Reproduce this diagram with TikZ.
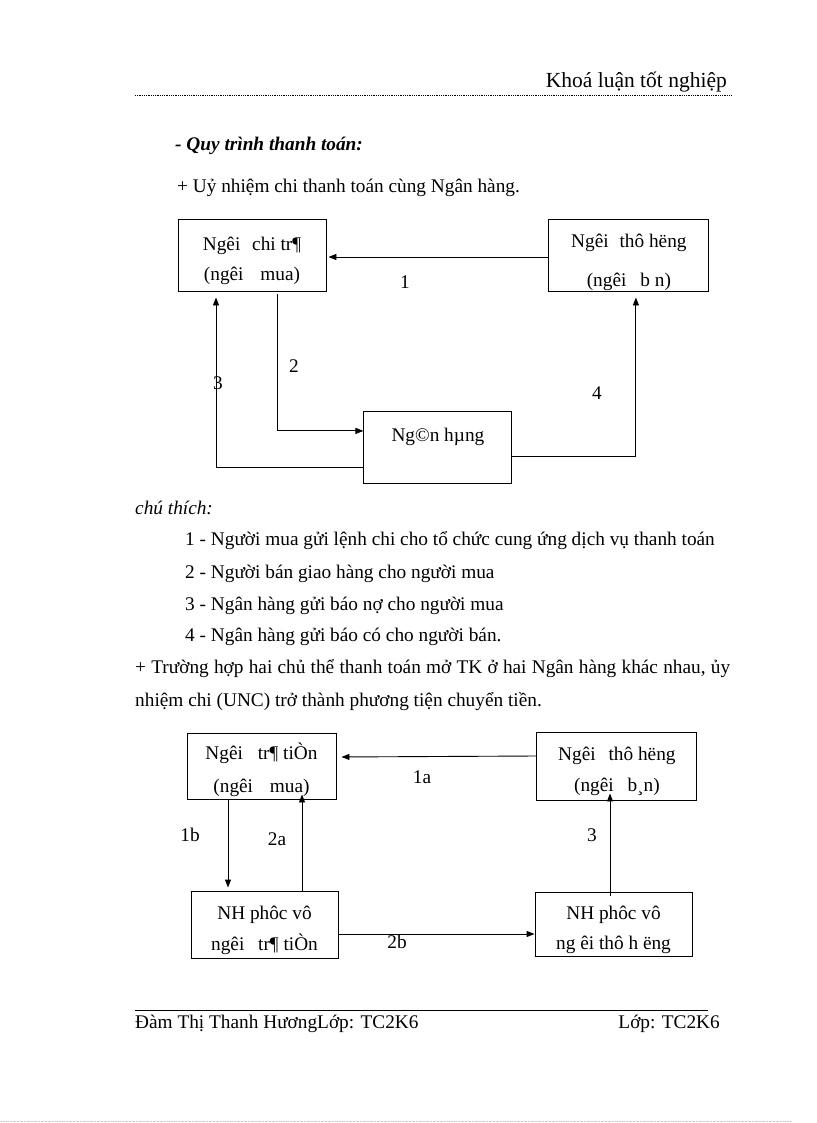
\documentclass[tikz,border=0pt]{standalone}
\usepackage{fontspec}
\setmainfont{Liberation Serif}
\usetikzlibrary{arrows.meta,
                positioning}
\newcommand{\lift}[1]{\rule{0pt}{#1}} % taller first line, text sits lower in its box

\begin{document}
\begin{tikzpicture}[x=1pt,y=-1pt]
    \tikzset
    {
        base/.style = {draw,
                       line width = 0.9pt,
                       inner sep = 0pt,
                       align = center,
                       font = \fontsize{19.3}{30}\selectfont},
        party/.style = {base,
                         rectangle,
                         minimum height = 72pt},
        txt/.style = {inner sep = 0pt,
                      anchor = base west,
                      font = \fontsize{19.3}{23}\selectfont},
        num/.style = {inner sep = 0pt,
                      font = \fontsize{19.3}{23}\selectfont},
        arr/.style = {draw,
                      line width = 0.9pt,
                      -{Triangle[length=8pt,width=6pt]}}
    };
    \useasboundingbox (0,0) rectangle (816,1123);

    % Page head
    \node[txt, anchor=base east, font=\fontsize{21.5}{25}\selectfont] (head) at (727,88) {Khoá luận tốt nghiệp};
    \draw[densely dotted, line width=0.8pt] (135,95) -- (731,95);
    \node[txt, font=\fontsize{19.3}{23}\selectfont\bfseries\itshape] (process) at (175,151) {- Quy trình thanh toán:};
    \node[txt] (case one) at (177,193) {+ Uỷ nhiệm chi thanh toán cùng Ngân hàng.};

    % Diagram 1
    \node[party, minimum width=148pt] (buyer) at (252,255) {\lift{25pt}Ngêi\hspace{7pt} chi tr¶\\(ngêi\hspace{12pt} mua)};
    \node[party, minimum width=160pt, font=\fontsize{19.3}{39}\selectfont] (seller) [right=222pt of buyer] {\lift{28pt}Ngêi\hspace{6pt} thô hëng\\(ngêi\hspace{9pt} b\hspace{5pt}n)};
    \node[party, minimum width=148pt, text height=13pt, text depth=25pt] (bank) [below right=120pt and 37pt of buyer] {Ng©n hµng};

    \node[num] (n1) at (405,282) {1};
    \node[num] (n2) at (294,366) {2};
    \node[num] (n3) at (218,383) {3};
    \node[num] (n4) at (597,393) {4};

    % Arrows
    \draw[arr, shorten >=2pt] (seller.west |- 0,257) -- (buyer.east |- 0,257);
    \draw[arr, shorten <=3pt] ([xshift=25pt]buyer.south) |- ([yshift=17pt]bank.west);
    \draw[arr, shorten >=6pt] ([yshift=-20pt]bank.west) -| ([xshift=-36pt]buyer.south);
    \draw[arr, shorten >=6pt] ([yshift=-9pt]bank.east) -| ([xshift=7pt]seller.south);

    % Legend
    \node[txt, font=\fontsize{19.3}{23}\selectfont\itshape] (legend) at (135,514) {chú thích:};
    \node[txt] (l1) at (185,545) {1 - Người mua gửi lệnh chi cho tổ chức cung ứng dịch vụ thanh toán};
    \node[txt] (l2) at (185,578) {2 - Người bán giao hàng cho người mua};
    \node[txt] (l3) at (185,610) {3 - Ngân hàng gửi báo nợ cho người mua};
    \node[txt] (l4) at (185,641) {4 - Ngân hàng gửi báo có cho người bán.};
    \node[txt] (case two) at (135,673) {\makebox[595pt][s]{+ Trường hợp hai chủ thể thanh toán mở TK ở hai Ngân hàng khác nhau, ủy}};
    \node[txt] (case two b) at (135,706) {nhiệm chi (UNC) trở thành phương tiện chuyển tiền.};

    % Diagram 2
    \node[party, minimum width=149pt, minimum height=66pt, font=\fontsize{19.3}{33}\selectfont] (payer) at (261.5,766) {\lift{25pt}Ngêi\hspace{10pt} tr¶ tiÒn\\(ngêi\hspace{12pt} mua)};
    \node[party, minimum width=160pt, minimum height=68pt, font=\fontsize{19.3}{31}\selectfont] (payee) [right=200pt of payer] {\lift{25pt}Ngêi\hspace{8pt} thô hëng\\(ngêi\hspace{9pt} b¸n)};
    \node[party, minimum width=147pt, minimum height=67pt, font=\fontsize{19.3}{31}\selectfont] (payer bank) at (264.5,924.5) {\lift{25pt}NH phôc vô\\ngêi\hspace{9pt} tr¶ tiÒn};
    \node[party, minimum width=157pt, minimum height=64pt] (payee bank) at (613.5,924) {\lift{26pt}NH phôc vô\\ng êi thô h ëng};

    \node[num] (n1a) at (422,777) {1a};
    \node[num] (n1b) at (190,835) {1b};
    \node[num] (n2a) at (277,839) {2a};
    \node[num] (n2b) at (397,942) {2b};
    \node[num] (n3b) at (592,835) {3};

    % Arrows
    \draw[arr, shorten >=5pt] ([yshift=10pt]payee.west) -- ([yshift=9pt]payer.east);
    \draw[arr, shorten >=3pt] ([xshift=-33.5pt]payer.south) -- ([xshift=-33.5pt]payer.south |- payer bank.north);
    \draw[arr, shorten >=-5pt] ([xshift=37.5pt]payer bank.north) -- ([xshift=37.5pt]payer bank.north |- payer.south);
    \draw[arr] ([yshift=-9.5pt]payer bank.east) -- ([yshift=-10pt]payee bank.west);
    \draw[arr, shorten >=-7pt, shorten <=-4pt] ([xshift=-3.5pt]payee bank.north) -- ([xshift=-3.5pt]payee bank.north |- payee.south);

    % Page foot
    \draw[line width=0.8pt] (135,1010) -- (708,1010);
    \node[txt] (author) at (135,1028) {Đàm Thị Thanh HươngLớp: TC2K6};
    \node[txt, anchor=base east] (class) at (720,1028) {Lớp: TC2K6};
    \draw[black!20, densely dotted] (0,1121) -- (792,1121);
\end{tikzpicture}
\end{document}
